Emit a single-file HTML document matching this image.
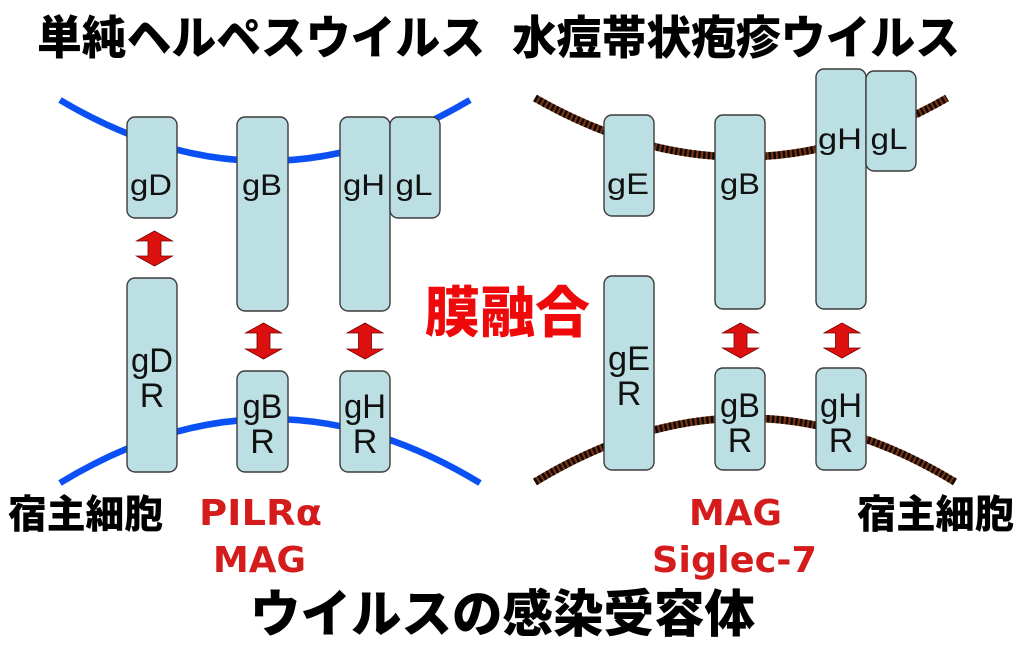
<!DOCTYPE html>
<html><head><meta charset="utf-8"><style>
html,body{margin:0;padding:0;background:#fff;}
svg{display:block;}
.jp{font-family:"Liberation Sans","Noto Sans CJK JP",sans-serif;font-weight:900;}
.lab{font-family:"Liberation Sans",Arial,sans-serif;fill:#111;}
.red{font-family:"DejaVu Sans","Liberation Sans",sans-serif;font-weight:700;fill:#d41c1c;}
.box{fill:#bcdfe3;stroke:#3c3c3c;stroke-width:1.4;}
.arr{fill:#dd1010;stroke:#7a0000;stroke-width:0.8;}
</style></head><body>
<svg width="1025" height="651" viewBox="0 0 1025 651" xmlns="http://www.w3.org/2000/svg">
<!-- titles -->
<text class="jp" x="37" y="54" font-size="46" textLength="448" lengthAdjust="spacingAndGlyphs">単純ヘルペスウイルス</text>
<text class="jp" x="512" y="54" font-size="46" textLength="448" lengthAdjust="spacingAndGlyphs">水痘帯状疱疹ウイルス</text>

<!-- membranes left -->
<path d="M60,100 Q265,222 470,100" fill="none" stroke="#0a50f5" stroke-width="6.5"/>
<path d="M60,483 Q270,355 480,483" fill="none" stroke="#0a50f5" stroke-width="6.5"/>
<!-- membranes right (striped) -->
<path d="M535,98 Q741,216 947,98" fill="none" stroke="#7a3518" stroke-width="7.5"/>
<path d="M535,98 Q741,216 947,98" fill="none" stroke="#140802" stroke-width="7.5" stroke-dasharray="2.6 2.1"/>
<path d="M535,482 Q745,354 955,482" fill="none" stroke="#7a3518" stroke-width="7.5"/>
<path d="M535,482 Q745,354 955,482" fill="none" stroke="#140802" stroke-width="7.5" stroke-dasharray="2.6 2.1"/>

<!-- left boxes -->
<rect class="box" x="127" y="117" width="50" height="101" rx="8"/>
<rect class="box" x="237" y="117" width="51" height="194" rx="8"/>
<rect class="box" x="340" y="117" width="50" height="194" rx="8"/>
<rect class="box" x="390" y="117" width="50" height="101" rx="8"/>
<rect class="box" x="127" y="278" width="50" height="194" rx="8"/>
<rect class="box" x="237" y="371" width="51" height="101" rx="8"/>
<rect class="box" x="340" y="371" width="50" height="101" rx="8"/>

<!-- right boxes -->
<rect class="box" x="604" y="115" width="50" height="101" rx="8"/>
<rect class="box" x="715" y="115" width="50" height="194" rx="8"/>
<rect class="box" x="816" y="69" width="50" height="240" rx="8"/>
<rect class="box" x="866" y="71" width="50" height="100" rx="8"/>
<rect class="box" x="604" y="276" width="50" height="194" rx="8"/>
<rect class="box" x="715" y="368" width="50" height="102" rx="8"/>
<rect class="box" x="816" y="368" width="50" height="102" rx="8"/>

<!-- top labels -->
<g class="lab" font-size="30" text-anchor="middle">
<text x="151" y="195" textLength="42" lengthAdjust="spacingAndGlyphs">gD</text>
<text x="262" y="195" textLength="40" lengthAdjust="spacingAndGlyphs">gB</text>
<text x="364" y="195" textLength="42" lengthAdjust="spacingAndGlyphs">gH</text>
<text x="414" y="195" textLength="37" lengthAdjust="spacingAndGlyphs">gL</text>
<text x="628" y="194" textLength="42" lengthAdjust="spacingAndGlyphs">gE</text>
<text x="740" y="194" textLength="40" lengthAdjust="spacingAndGlyphs">gB</text>
<text x="840" y="149" textLength="44" lengthAdjust="spacingAndGlyphs">gH</text>
<text x="889" y="149" textLength="37" lengthAdjust="spacingAndGlyphs">gL</text>
</g>
<!-- bottom labels -->
<g class="lab" font-size="34" text-anchor="middle">
<text x="152" y="372" textLength="42" lengthAdjust="spacingAndGlyphs">gD</text><text x="152" y="407">R</text>
<text x="262.5" y="418" textLength="40" lengthAdjust="spacingAndGlyphs">gB</text><text x="262.5" y="453">R</text>
<text x="365" y="418" textLength="42" lengthAdjust="spacingAndGlyphs">gH</text><text x="365" y="453">R</text>
<text x="629" y="370" textLength="42" lengthAdjust="spacingAndGlyphs">gE</text><text x="629" y="405">R</text>
<text x="740" y="417" textLength="40" lengthAdjust="spacingAndGlyphs">gB</text><text x="740" y="452">R</text>
<text x="841" y="417" textLength="42" lengthAdjust="spacingAndGlyphs">gH</text><text x="841" y="452">R</text>
</g>

<!-- arrows -->
<g class="arr">
<polygon points="154.5,231 172.5,241 161,241 161,256 172.5,256 154.5,266 136.5,256 148,256 148,241 136.5,241"/>
<polygon points="263.5,323 281.5,333 270,333 270,349 281.5,349 263.5,359 245.5,349 257,349 257,333 245.5,333"/>
<polygon points="365,323 383,333 371.5,333 371.5,349 383,349 365,359 347,349 358.5,349 358.5,333 347,333"/>
<polygon points="740.5,323 758.5,333 747,333 747,348 758.5,348 740.5,358 722.5,348 734,348 734,333 722.5,333"/>
<polygon points="842,323 860,333 848.5,333 848.5,348 860,348 842,358 824,348 835.5,348 835.5,333 824,333"/>
</g>

<!-- center label -->
<text class="jp" x="425" y="332" font-size="55" fill="#ee0a0a" textLength="165" lengthAdjust="spacingAndGlyphs">膜融合</text>

<!-- host cell labels -->
<text class="jp" x="8" y="528" font-size="39" textLength="155" lengthAdjust="spacingAndGlyphs">宿主細胞</text>
<text class="jp" x="857" y="528" font-size="39" textLength="157" lengthAdjust="spacingAndGlyphs">宿主細胞</text>

<!-- receptor names -->
<text class="red" x="199" y="525" font-size="36" textLength="123" lengthAdjust="spacingAndGlyphs">PILRα</text>
<text class="red" x="213" y="572" font-size="36" textLength="93" lengthAdjust="spacingAndGlyphs">MAG</text>
<text class="red" x="689" y="525" font-size="36" textLength="93" lengthAdjust="spacingAndGlyphs">MAG</text>
<text class="red" x="652" y="572" font-size="36" textLength="165" lengthAdjust="spacingAndGlyphs">Siglec-7</text>

<!-- bottom title -->
<text class="jp" x="250" y="632" font-size="51" textLength="505" lengthAdjust="spacingAndGlyphs">ウイルスの感染受容体</text>
</svg>
</body></html>
